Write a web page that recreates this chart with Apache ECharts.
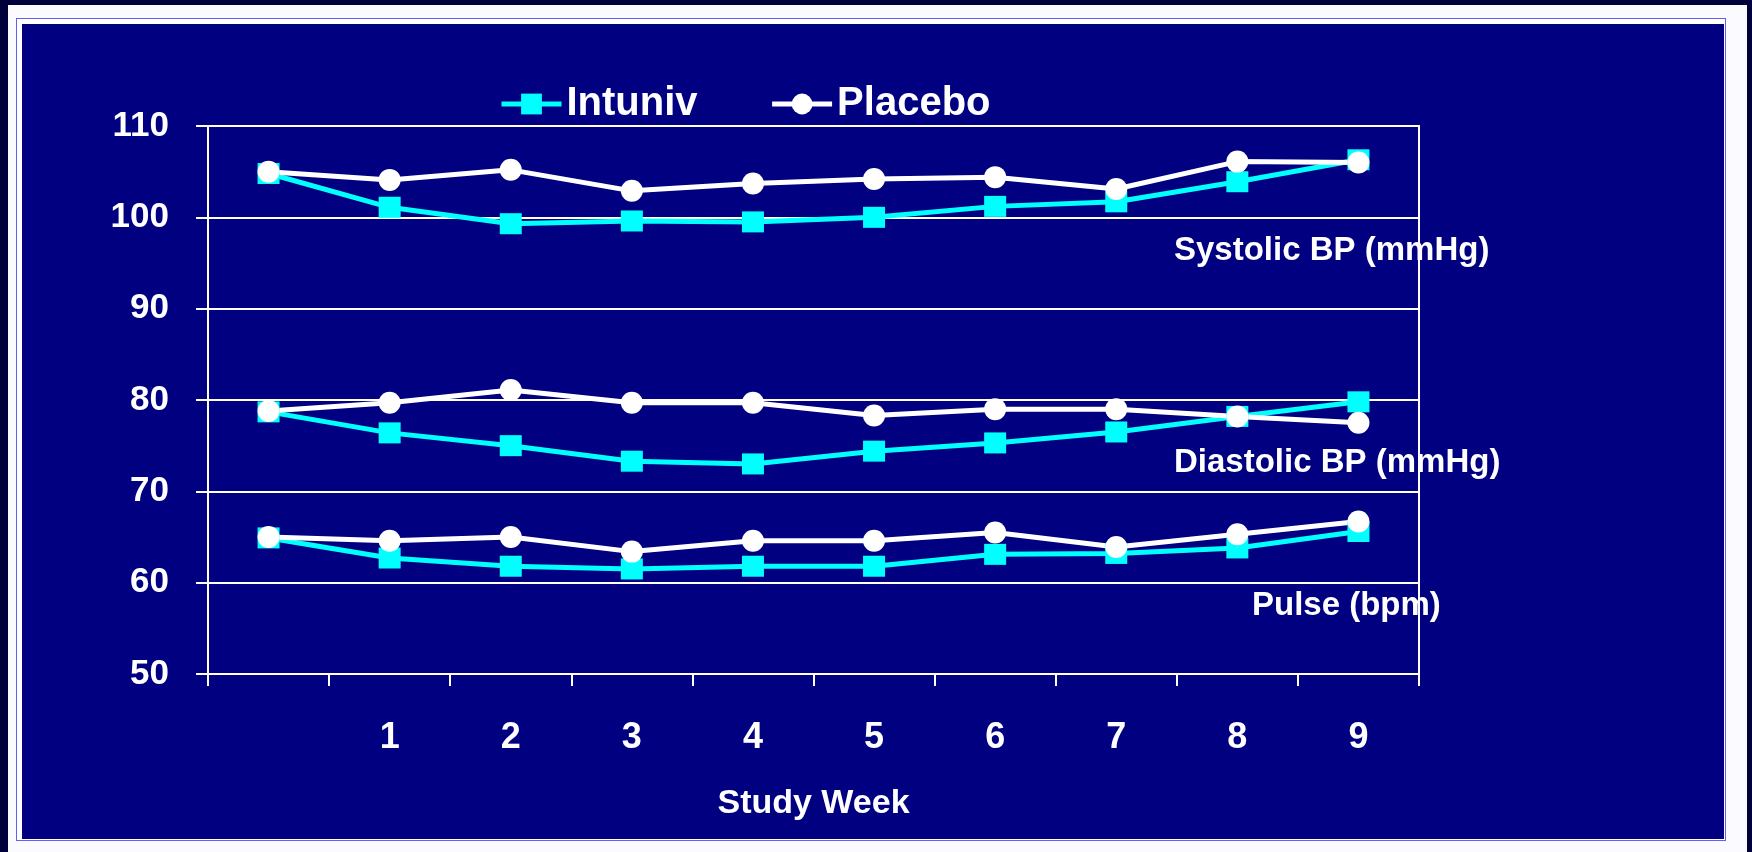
<!DOCTYPE html>
<html>
<head>
<meta charset="utf-8">
<script src="https://cdn.jsdelivr.net/npm/echarts@6/dist/echarts.min.js"></script>
<style>
  html, body { margin: 0; padding: 0; width: 1752px; height: 852px; overflow: hidden; background: #00003a; }
  .frame { position: absolute; left: 8px; top: 5px; width: 1739px; height: 847px; background: #fbfbff; }
  .rule { position: absolute; left: 16px; top: 18px; width: 1708px; height: 821px; border: 1px solid #6060f0; background: #fff; }
  .panel { position: absolute; left: 22px; top: 24px; width: 1702px; height: 815px; background: #000080; }
  #chart { position: absolute; left: 0; top: 0; width: 1752px; height: 852px; }
</style>
</head>
<body>
<div class="frame"></div>
<div class="rule"></div>
<div class="panel"></div>
<div id="chart"></div>
<script>
// week 0 is the baseline, it has no label on the axis
const weeks = ['', '1', '2', '3', '4', '5', '6', '7', '8', '9']

const intunivSystolic = [104.8, 101.1, 99.3, 99.6, 99.5, 100.0, 101.2, 101.7, 103.9, 106.3]
const placeboSystolic = [105.0, 104.1, 105.2, 102.9, 103.7, 104.2, 104.4, 103.1, 106.1, 106.0]
const intunivDiastolic = [78.7, 76.4, 75.0, 73.3, 73.0, 74.4, 75.3, 76.5, 78.2, 79.8]
const placeboDiastolic = [78.8, 79.7, 81.1, 79.7, 79.7, 78.3, 79.0, 79.0, 78.2, 77.5]
const intunivPulse = [64.9, 62.7, 61.8, 61.5, 61.8, 61.8, 63.1, 63.2, 63.8, 65.6]
const placeboPulse = [65.0, 64.6, 65.0, 63.4, 64.6, 64.6, 65.5, 63.9, 65.3, 66.7]

const panelLabels = ['Systolic BP (mmHg)', 'Diastolic BP (mmHg)', 'Pulse (bpm)']

const font = 'Liberation Sans, Arial, sans-serif'
const cyan = '#00ffff'
const white = '#ffffff'

const intunivSeries = (data) => ({
  name: 'Intuniv',
  type: 'line',
  data: data,
  symbol: 'rect',
  symbolSize: [22, 21],
  lineStyle: { color: cyan, width: 5 },
  itemStyle: { color: cyan },
  animation: false,
})

const placeboSeries = (data) => ({
  name: 'Placebo',
  type: 'line',
  data: data,
  symbol: 'circle',
  symbolSize: 22,
  lineStyle: { color: white, width: 5 },
  itemStyle: { color: white },
  animation: false,
})

// text beside each group of lines
const sideLabel = (text, left, top) => ({
  type: 'text',
  left: left,
  top: top,
  z: -1,
  style: {
    text: text,
    fill: white,
    font: 'bold 33px ' + font,
  },
})

const options = {
  backgroundColor: 'transparent',
  textStyle: { fontFamily: font },
  legend: {
    data: ['Intuniv', 'Placebo'],
    left: 494,
    top: 79,
    itemWidth: 60,
    itemHeight: 26,
    itemGap: 72,
    lineStyle: { width: 5 },
    textStyle: { color: white, fontSize: 40, fontWeight: 'bold', fontFamily: font },
  },
  grid: {
    left: 208,
    right: 333,
    top: 126,
    bottom: 178,
    show: true,
    borderColor: white,
    borderWidth: 2,
    backgroundColor: 'transparent',
  },
  xAxis: {
    type: 'category',
    data: weeks,
    boundaryGap: true,
    axisLine: { lineStyle: { color: white, width: 2 } },
    axisTick: { show: true, length: 12, interval: 0, lineStyle: { color: white, width: 2 } },
    axisLabel: {
      interval: 0,
      margin: 64,
      verticalAlign: 'middle',
      color: white,
      fontSize: 36,
      fontWeight: 'bold',
      fontFamily: font,
    },
    name: 'Study Week',
    nameLocation: 'middle',
    nameGap: 130,
    nameTextStyle: { color: white, fontSize: 34, fontWeight: 'bold', fontFamily: font, verticalAlign: 'middle' },
  },
  yAxis: {
    type: 'value',
    min: 50,
    max: 110,
    interval: 10,
    axisLine: { show: true, lineStyle: { color: white, width: 2 } },
    axisTick: { show: true, length: 12, lineStyle: { color: white, width: 2 } },
    splitLine: { lineStyle: { color: white, width: 2 } },
    axisLabel: { margin: 39, color: white, fontSize: 35, fontWeight: 'bold', fontFamily: font },
  },
  graphic: [
    sideLabel(panelLabels[0], 1174, 234),
    sideLabel(panelLabels[1], 1174, 446),
    sideLabel(panelLabels[2], 1252, 589),
  ],
  series: [
    intunivSeries(intunivSystolic),
    intunivSeries(intunivDiastolic),
    intunivSeries(intunivPulse),
    placeboSeries(placeboSystolic),
    placeboSeries(placeboDiastolic),
    placeboSeries(placeboPulse),
  ],
}

const thisChart = echarts.init(document.getElementById('chart'))
thisChart.setOption(options)
</script>
</body>
</html>
